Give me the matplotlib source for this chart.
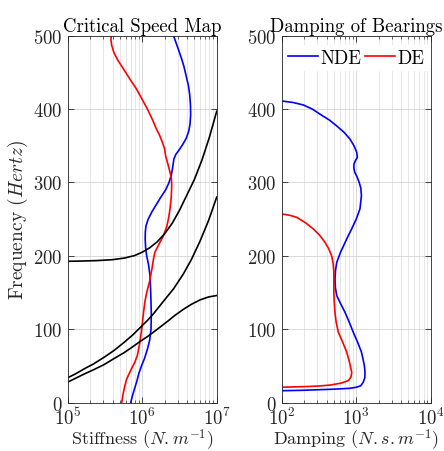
import matplotlib
matplotlib.use("Agg")
import matplotlib.pyplot as plt
import numpy as np

plt.rcParams['font.family'] = 'serif'
plt.rcParams['font.serif'] = ['cmr10']
plt.rcParams['mathtext.fontset'] = 'cm'
plt.rcParams['axes.formatter.use_mathtext'] = True
plt.rcParams['axes.unicode_minus'] = False

# bearing stiffness vs frequency, values given as log10(N/m)
nde_k_freq = [0, 10, 20, 30, 40, 50, 60, 73, 85, 100, 120, 137, 155, 173, 188,
              200, 212, 223, 233, 241, 250, 260, 270, 280, 290, 300, 310, 318,
              325, 332, 338, 345, 352, 360, 370, 380, 392, 405, 420, 432, 445,
              458, 468, 480, 490, 500]
nde_logk = [5.846, 5.87, 5.90, 5.93, 5.955, 5.99, 6.03, 6.07, 6.10, 6.118, 6.122,
            6.118, 6.112, 6.105, 6.085, 6.06, 6.045, 6.04, 6.042, 6.051, 6.08,
            6.13, 6.19, 6.25, 6.315, 6.36, 6.39, 6.405, 6.415, 6.425, 6.45, 6.50,
            6.545, 6.59, 6.625, 6.642, 6.65, 6.648, 6.637, 6.62, 6.59, 6.56,
            6.53, 6.49, 6.455, 6.42]

de_k_freq = [0, 10, 20, 32, 45, 55, 64, 80, 100, 118, 137, 150, 164, 182, 195,
             205, 215, 227, 240, 252, 264, 280, 296, 305, 314, 325, 336, 346,
             355, 365, 373, 385, 400, 413, 427, 440, 455, 467, 477, 487, 495, 500]
de_logk = [5.725, 5.74, 5.76, 5.79, 5.85, 5.90, 5.934, 5.965, 5.993, 6.012, 6.035,
           6.06, 6.096, 6.13, 6.15, 6.17, 6.22, 6.283, 6.33, 6.355, 6.373, 6.39,
           6.396, 6.392, 6.373, 6.345, 6.315, 6.30, 6.27, 6.23, 6.19, 6.14,
           6.07, 6.0, 5.925, 5.84, 5.746, 5.67, 5.62, 5.59, 5.58, 5.585]

# critical speed map: natural frequency of each mode vs support stiffness
mode1_logk = [5.0, 5.1, 5.22, 5.35, 5.49, 5.62, 5.755, 5.87, 5.98, 6.07, 6.15,
              6.24, 6.33, 6.44, 6.55, 6.66, 6.776, 6.89, 7.0]
mode1_freq = [28, 33, 39, 45, 52, 60, 68, 76, 84, 90, 96, 103, 110, 119, 127,
              134, 140, 144, 146]
mode2_logk = [5.0, 5.1, 5.22, 5.35, 5.49, 5.62, 5.755, 5.87, 5.98, 6.07, 6.15,
              6.3, 6.42, 6.55, 6.66, 6.776, 6.89, 7.0]
mode2_freq = [34, 39, 46, 53, 62, 71, 82, 92, 103, 112, 121, 140, 155, 175,
              195, 220, 248, 280]
mode3_logk = [5.0, 5.2, 5.4, 5.6, 5.76, 5.9, 6.0, 6.1, 6.2, 6.3, 6.4, 6.5, 6.6,
              6.7, 6.8, 6.9, 7.0]
mode3_freq = [192.6, 193, 193.6, 194.8, 197, 200.5, 205, 211, 219, 230, 244, 262,
              283, 304, 330, 361, 397]

# bearing damping vs frequency, values given as log10(N.s/m)
nde_c_freq = [16.3, 16.8, 17.7, 18.5, 19.6, 21, 23, 28, 34, 41, 50, 60, 69, 82,
              96, 110, 123, 135, 146, 157, 168.5, 180, 191, 205, 223, 237, 250,
              264, 282, 292, 300, 308, 314, 320, 325, 330, 334, 341, 350, 359,
              368, 377, 385, 393, 400, 405.6, 409, 411]
nde_logc = [2.0, 2.25, 2.514, 2.72, 2.917, 3.0, 3.06, 3.095, 3.115, 3.118, 3.11,
            3.09, 3.07, 3.02, 2.96, 2.905, 2.85, 2.79, 2.738, 2.72, 2.715, 2.722,
            2.738, 2.79, 2.872, 2.94, 3.0, 3.05, 3.07, 3.062, 3.04, 3.01, 2.98,
            2.968, 2.97, 2.99, 3.015, 3.007, 2.97, 2.917, 2.84, 2.738, 2.64,
            2.514, 2.41, 2.29, 2.15, 2.0]

de_c_freq = [21, 21.5, 21.8, 22.7, 24, 26.5, 30, 35, 41, 55, 69, 82, 96, 110, 123,
             137, 150, 165, 177.6, 190, 200, 210, 218.5, 228, 236.7, 245, 252.6,
             255.5, 257]
de_logc = [2.0, 2.15, 2.29, 2.5, 2.65, 2.79, 2.894, 2.93, 2.94, 2.91, 2.872, 2.82,
           2.76, 2.73, 2.715, 2.705, 2.70, 2.70, 2.70, 2.69, 2.67, 2.63, 2.58,
           2.51, 2.424, 2.32, 2.2, 2.1, 2.0]

fig = plt.figure(figsize=(4.44, 4.52), dpi=100)
ax1 = fig.add_axes([0.1525, 0.1069, 0.3356, 0.812])
ax2 = fig.add_axes([0.6345, 0.1069, 0.3356, 0.812])

fs = 13.5
edge = '#262626'
for ax in (ax1, ax2):
    ax.set_xscale('log')
    ax.set_ylim(0, 500)
    ax.set_yticks([0, 100, 200, 300, 400, 500])
    ax.grid(True, which='major', color='#d4d4d4', lw=0.6)
    ax.grid(True, which='minor', axis='x', color='#e2e2e2', lw=0.6)
    ax.set_axisbelow(True)
    ax.tick_params(which='both', direction='in', top=True, right=True,
                   colors=edge, labelsize=fs)
    ax.tick_params(axis='x', pad=3)
    ax.tick_params(axis='y', pad=4)
    ax.tick_params(which='major', length=4, width=0.6)
    ax.tick_params(which='minor', length=2.2, width=0.5)
    for s in ax.spines.values():
        s.set_color(edge)
        s.set_linewidth(0.6)

ax1.set_xlim(1e5, 1e7)
ax1.plot(10 ** np.array(nde_logk), nde_k_freq, color='#0000ff', lw=1.2)
ax1.plot(10 ** np.array(de_logk), de_k_freq, color='#ff0000', lw=1.2)
for lk, fr in ((mode1_logk, mode1_freq), (mode2_logk, mode2_freq),
               (mode3_logk, mode3_freq)):
    ax1.plot(10 ** np.array(lk), fr, color='black', lw=1.2)
ax1.set_title('Critical Speed Map', fontsize=fs, color='black', pad=3)
ax1.set_xlabel('Stiffness ($N.m^{-1}$)', fontsize=13, color=edge, labelpad=-1)
ax1.set_ylabel('Frequency ($Hertz$)', fontsize=14, color=edge, labelpad=2)

ax2.set_xlim(1e2, 1e4)
ax2.plot(10 ** np.array(nde_logc), nde_c_freq, color='#0000ff', lw=1.2, label='NDE')
ax2.plot(10 ** np.array(de_logc), de_c_freq, color='#ff0000', lw=1.2, label='DE')
ax2.set_title('Damping of Bearings', fontsize=fs, color='black', pad=3)
ax2.set_xlabel('Damping ($N.s.m^{-1}$)', fontsize=13, color=edge, labelpad=-1)
ax2.legend(loc='upper center', ncol=2, fontsize=fs, frameon=True,
           fancybox=False, edgecolor='white', framealpha=1,
           handlelength=1.6, handletextpad=0.1, columnspacing=0.2,
           borderaxespad=0.5, borderpad=0.2)

fig.savefig('out.png', dpi=100)
